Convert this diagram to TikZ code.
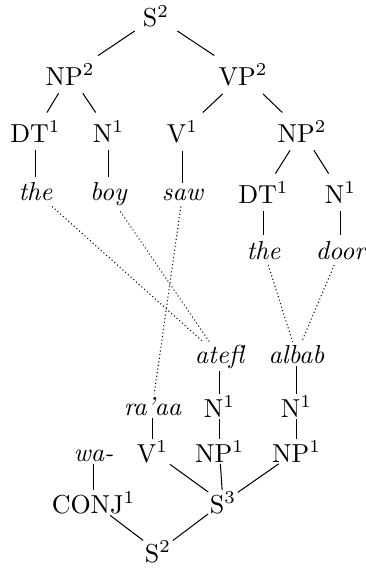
\documentclass[tikz,border=0pt]{standalone}
\usepackage{tikz}
\usetikzlibrary{positioning}
\tikzset{
  cat/.style={anchor=base, inner sep=3},
  word/.style={anchor=base, inner sep=2, font=\itshape},
  lowcat/.style={anchor=base, inner sep=0.5},
  lowword/.style={anchor=base, inner sep=1, font=\itshape},
  align/.style={densely dotted},
  branch/.style={line width=0.4}
}

\begin{document}
\begin{tikzpicture}[x=0.385pt, y=-0.385pt]

\useasboundingbox (0,0) rectangle (365,568);

\node [cat] (s) at (156,27) {S$^2$};
\node [cat] (np) at (70,85) {NP$^2$};
\node [cat] (vp) at (243,85) {VP$^2$};
\node [cat] (dt) at (35.5,142) {DT$^1$};
\node [cat] (n) at (108.5,142) {N$^1$};
\node [cat] (v) at (182.5,142) {V$^1$};
\node [cat] (vnp) at (302,142) {NP$^2$};
\node [word] (the) at (35.5,200.5) {the};
\node [word] (boy) at (108.5,200.5) {boy};
\node [word] (saw) at (182.5,200.5) {saw};
\node [cat] (vdt) at (263.5,203) {DT$^1$};
\node [cat] (vn) at (340.5,203) {N$^1$};
\node [word] (vthe) at (263.5,259) {the};
\node [word] (door) at (340.5,259) {door};

\draw [branch] (s) -- (np);
\draw [branch] (s) -- (vp);
\draw [branch] (np) -- (dt);
\draw [branch] (np) -- (n);
\draw [branch] (vp) -- (v);
\draw [branch] (vp) -- (vnp);
\draw [branch] (dt) -- (the);
\draw [branch] (n) -- (boy);
\draw [branch] (v) -- (saw);
\draw [branch] (vnp) -- (vdt);
\draw [branch] (vnp) -- (vn);
\draw [branch] (vdt) -- (vthe);
\draw [branch] (vn) -- (door);

\node [lowword] (atefl) at (219.5,363) {atefl};
\node [lowword] (albab) at (296.5,363) {albab};
\node [lowword] (raaa) at (152.5,415) {ra'aa};
\node [lowcat] (an) at (219.5,417) {N$^1$};
\node [lowcat] (bn) at (296.5,417) {N$^1$};
\node [lowword] (wa) at (93.5,461) {wa-};
\node [lowcat] (av) at (152.5,462) {V$^1$};
\node [lowcat] (anp) at (219.5,462) {NP$^1$};
\node [lowcat] (bnp) at (296.5,462) {NP$^1$};
\node [lowcat] (conj) at (93.5,513) {CONJ$^1$};
\node [lowcat] (s3) at (223,513) {S$^3$};
\node [lowcat] (s2) at (158,562) {S$^2$};

\draw [branch] (atefl) -- (an);
\draw [branch] (albab) -- (bn);
\draw [branch] (raaa) -- (av);
\draw [branch] (an) -- (anp);
\draw [branch] (bn) -- (bnp);
\draw [branch] (wa) -- (conj);
\draw [branch] (av) -- (s3);
\draw [branch] (anp) -- (s3);
\draw [branch] (bnp) -- (s3);
\draw [branch] (conj) -- (s2);
\draw [branch] (s3) -- (s2);

\draw [align] (the) -- (atefl);
\draw [align] (boy) -- (atefl);
\draw [align] (saw) -- (raaa);
\draw [align] (vthe) -- (albab);
\draw [align] (door) -- (albab);

\end{tikzpicture}
\end{document}
